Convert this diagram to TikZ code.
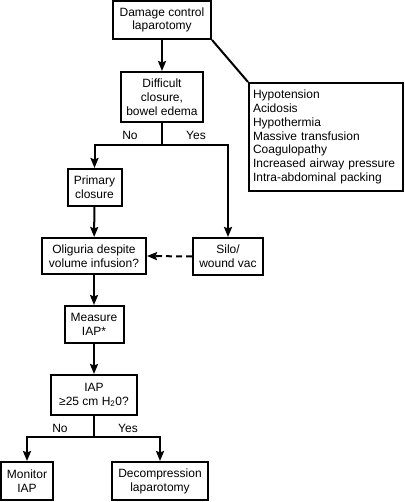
\documentclass[tikz,border=0pt]{standalone}
\usepackage{fontspec}
\setmainfont{Liberation Sans}
\usetikzlibrary{arrows.meta}
\begin{document}
\begin{tikzpicture}[x=1pt,y=-1pt,
  every node/.style={font=\fontsize{12}{13.8}\selectfont},
  bx/.style={draw,line width=2pt,inner sep=0pt,align=center,anchor=center},
  lbl/.style={inner sep=0pt,anchor=center},
  conn/.style={line width=2pt},
  arr/.style={line width=2pt,-{Stealth[length=10pt,width=8pt,inset=1.5pt]}}]
\useasboundingbox (0,0) rectangle (404,502);
\node[bx,minimum width=98,minimum height=38] (dcl) at (162,20) {Damage control\\laparotomy};
\node[bx,minimum width=82,minimum height=50] (dif) at (162,97) {Difficult\\closure,\\bowel edema};
\node[bx,minimum height=108,text width=146,inner xsep=4pt,align=left] (risk) at (326,137)
 {\hyphenpenalty=10000 Hypotension\\Acidosis\\Hypothermia\\Massive transfusion\\Coagulopathy\\Increased airway pressure\\Intra-abdominal packing};
\node[bx,minimum width=54,minimum height=37] (prim) at (94.5,187.5) {Primary\\closure};
\node[bx,minimum width=104,minimum height=36] (olig) at (94,256) {Oliguria despite\\volume infusion?};
\node[bx,minimum width=70,minimum height=37] (silo) at (228,256.5) {Silo/\\wound vac};
\node[bx,minimum width=59,minimum height=37] (meas) at (94,324.5) {Measure\\IAP*};
\node[bx,minimum width=86,minimum height=40] (iap) at (94,395) {IAP\\≥25 cm H\textsubscript{2}0?};
\node[bx,minimum width=52,minimum height=38] (mon) at (27,481) {Monitor\\IAP};
\node[bx,minimum width=96,minimum height=38] (dec) at (160,481) {Decompression\\laparotomy};
\node[lbl] (no1) at (130,135) {No};
\node[lbl] (yes1) at (196,135) {Yes};
\node[lbl] (no2) at (60,428) {No};
\node[lbl] (yes2) at (128,428) {Yes};
\coordinate (j1) at (162,145);
\coordinate (j2) at (94,437);
\draw[arr] (dcl) -- (dif);
\draw[conn] (dcl.south east) -- (risk.north west);
\draw[conn] (dif.south) -- (j1);
\draw[arr] (j1 -| prim) -- (prim.north);
\draw[conn,line cap=rect] (j1 -| prim) -- (j1 -| silo);
\draw[arr] (j1 -| silo) -- (silo.north);
\draw[arr] (prim) -- (olig);
\draw[line width=2pt,dash pattern=on 6pt off 4pt,-{Stealth[length=10pt,width=8pt,inset=1.5pt]}] (silo.west) -- (olig.east);
\draw[arr] (olig) -- (meas);
\draw[arr] (meas) -- (iap);
\draw[conn] (iap.south) -- (j2);
\draw[conn,line cap=rect] (j2 -| mon) -- (j2 -| dec);
\draw[arr] (j2 -| mon) -- (mon.north);
\draw[arr] (j2 -| dec) -- (dec.north);
\end{tikzpicture}
\end{document}
